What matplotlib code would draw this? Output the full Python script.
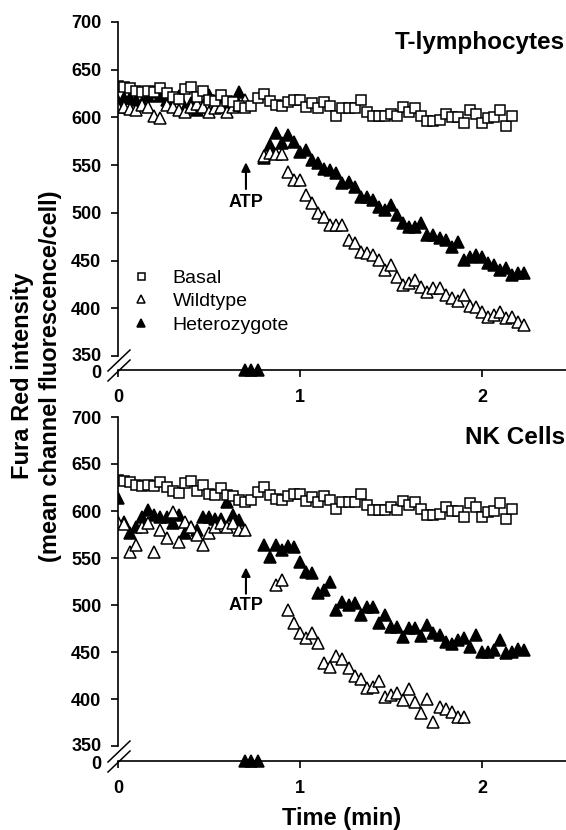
import numpy as np
import matplotlib
matplotlib.use('Agg')
import matplotlib.pyplot as plt
import matplotlib.transforms as mtransforms
from matplotlib.lines import Line2D

plt.rcParams['font.family'] = ['Liberation Sans', 'DejaVu Sans']

# sampling interval: 2 s = 1/30 min
dt = 1 / 30

basal = [633, 632, 631, 628, 627, 628, 627, 631, 626, 621,
         619, 630, 632, 621, 628, 618, 617, 624, 617, 616,
         612, 610, 612, 620, 625, 617, 613, 612, 616, 618,
         618, 611, 615, 610, 616, 612, 602, 610, 610, 610,
         618, 606, 601, 601, 601, 604, 601, 611, 606, 610,
         602, 596, 596, 597, 604, 600, 600, 594, 608, 604,
         594, 599, 600, 608, 591, 602]

# T-lymphocytes
t_wt_pre = [611, 611, 609, 608, 613, 611, 601, 599, 613, 611, 608,
            606, 611, 614, 611, 606, 610, 611, 606, 611, 613, 618]
t_wt_post = [560, 563, 562, 562, 543, 534, 534, 519, 510, 500, 496,
             487, 487, 487, 472, 468, 459, 458, 456, 451, 440, 445,
             433, 424, 426, 430, 422, 417, 421, 421, 414, 411, 408,
             414, 402, 401, 396, 391, 393, 396, 390, 391, 386, 382]
t_het_pre = [617, 620, 620, 618, 615, 622, 627, 622, 618, 620, 622,
             610, 615, 608, 611, 624, 611, 616, 615, 612, 627]
t_het_post = [557, 571, 584, 573, 582, 574, 564, 566, 555, 552, 546,
              545, 542, 531, 532, 527, 517, 517, 513, 506, 503, 508,
              498, 489, 485, 485, 489, 477, 477, 474, 472, 464, 469,
              451, 454, 456, 454, 447, 445, 440, 442, 435, 437, 437]

# NK cells
nk_wt_pre = [588, 586, 556, 564, 583, 587, 556, 580, 571, 599, 567,
             588, 583, 574, 564, 577, 583, 587, 583, 587, 580, 580]
nk_wt_post = [521, 527, 495, 481, 470, 465, 470, 460, 438, 434, 446,
              443, 433, 424, 421, 412, 413, 419, 402, 404, 406, 399,
              411, 397, 385, 400, 376, 392, 389, 386, 381, 381]
nk_het_pre = [614, 588, 577, 583, 594, 601, 596, 594, 594, 587, 596,
              577, 583, 580, 594, 594, 592, 592, 610, 596, 590]
nk_het_post = [564, 551, 564, 558, 563, 562, 546, 535, 534, 513, 516,
               524, 495, 503, 500, 502, 489, 498, 498, 481, 489, 477,
               477, 466, 476, 476, 467, 479, 470, 468, 461, 459, 463,
               465, 455, 468, 450, 450, 452, 463, 449, 450, 453, 452]

# readings during ATP addition (plotted at 0)
atp_gap = [0, 0, 0]

t_wt = np.array(t_wt_pre + [np.nan] * 2 + t_wt_post, dtype=float)
t_het = np.array(t_het_pre + atp_gap + t_het_post, dtype=float)
nk_wt = np.array(nk_wt_pre + [np.nan] * 4 + nk_wt_post, dtype=float)
nk_het = np.array(nk_het_pre + atp_gap + nk_het_post, dtype=float)
basal = np.array(basal, dtype=float)

W, H = 566, 830
fig = plt.figure(figsize=(W / 100, H / 100), dpi=100)

XMAX = 448 / 182
tick_font = dict(fontsize=13, fontweight='bold')


def px_box(left, top, right, bottom):
    return [left / W, 1 - bottom / H, (right - left) / W, (bottom - top) / H]


def shift(label, dy_px):
    label.set_transform(label.get_transform() +
                        mtransforms.ScaledTranslation(0, dy_px / 100, fig.dpi_scale_trans))


def panel(top, bottom, zero_y, wt, het, title, atp, legend=False):
    ax = fig.add_axes(px_box(118, top, 566, bottom))
    low = fig.add_axes(px_box(118, bottom, 566, zero_y))

    for a in (ax, low):
        a.set_xlim(0, XMAX)
        a.patch.set_alpha(0)
        for s in ('top', 'right'):
            a.spines[s].set_visible(False)

    tb = np.arange(len(basal)) * dt
    th = np.arange(len(het)) * dt
    tw = np.arange(len(wt)) * dt
    mk = dict(linestyle='none', markeredgecolor='black', markeredgewidth=1.1)
    ax.plot(th, het, '^', markersize=8, markerfacecolor='black',
            label='Heterozygote', **mk)
    ax.plot(tw, wt, '^', markersize=8, markerfacecolor='white',
            label='Wildtype', **mk)
    ax.plot(tb, basal, 's', markersize=7, markerfacecolor='white',
            label='Basal', **mk)

    zeros = np.where(het == 0, het, np.nan)
    low.plot(th, zeros, '^', markersize=8, markerfacecolor='black',
             clip_on=False, zorder=5, **mk)

    ax.set_ylim(350, 700)
    ax.set_yticks(np.arange(350, 701, 50))
    ax.set_yticklabels([str(v) for v in range(350, 701, 50)], **tick_font)
    ax.spines['bottom'].set_visible(False)
    ax.spines['left'].set_linewidth(1.2)
    ax.set_xticks([])
    ax.tick_params(axis='y', direction='out', length=5, width=1.2, pad=7)
    shift(ax.get_yticklabels()[0], 1.5)

    low.set_ylim(0, 1)
    low.set_yticks([0])
    low.set_yticklabels(['0'], **tick_font)
    low.spines['left'].set_visible(False)
    low.spines['bottom'].set_linewidth(1.2)
    low.tick_params(axis='y', length=0, pad=12)
    shift(low.get_yticklabels()[0], -1.5)
    low.set_xticks([0, 1, 2])
    low.set_xticklabels(['0', '1', '2'], **tick_font)
    low.tick_params(axis='x', direction='out', length=5, width=1.2, pad=9)

    ax.text(0.998, 0.918, title, transform=ax.transAxes, ha='right',
            va='baseline', fontsize=17.5, fontweight='bold')

    x_atp, head, tail, txt = atp
    ax.annotate('', xy=(x_atp, head), xytext=(x_atp, tail),
                arrowprops=dict(arrowstyle='-|>', color='black', lw=1.5,
                                mutation_scale=13, shrinkA=0, shrinkB=0))
    ax.text(x_atp, txt, 'ATP', ha='center', va='center', fontsize=13,
            fontweight='bold')

    # axis break marks
    x0 = 118
    for dy in (0, 10):
        y1 = zero_y + 11 - dy
        fig.add_artist(Line2D([(x0 - 10) / W, (x0 + 12) / W],
                              [1 - y1 / H, 1 - (y1 - 21) / H],
                              transform=fig.transFigure, color='black', lw=1.1))

    if legend:
        h, l = ax.get_legend_handles_labels()
        order = [2, 1, 0]
        ax.legend([h[i] for i in order], [l[i] for i in order],
                  loc='upper left', bbox_to_anchor=(0.029, 0.26),
                  frameon=False, fontsize=14, markerscale=0.72,
                  handlelength=1.0, handletextpad=1.15, labelspacing=0.3,
                  borderpad=0, borderaxespad=0)
    return ax, low


panel(22, 356, 370, t_wt, t_het, 'T-lymphocytes', (0.703, 553, 525, 511),
      legend=True)
ax2, low2 = panel(417, 746, 761, nk_wt, nk_het, 'NK Cells',
                  (0.703, 540, 512, 499))
low2.set_xlabel('Time (min)', fontsize=17, fontweight='bold', labelpad=7)

fig.text(23 / W, 1 - 376 / H, 'Fura Red intensity', rotation=90,
         ha='center', va='center', fontsize=17, fontweight='bold')
fig.text(51 / W, 1 - 376 / H, '(mean channel fluorescence/cell)',
         rotation=90, ha='center', va='center', fontsize=17,
         fontweight='bold')

fig.savefig('out.png', dpi=100)
